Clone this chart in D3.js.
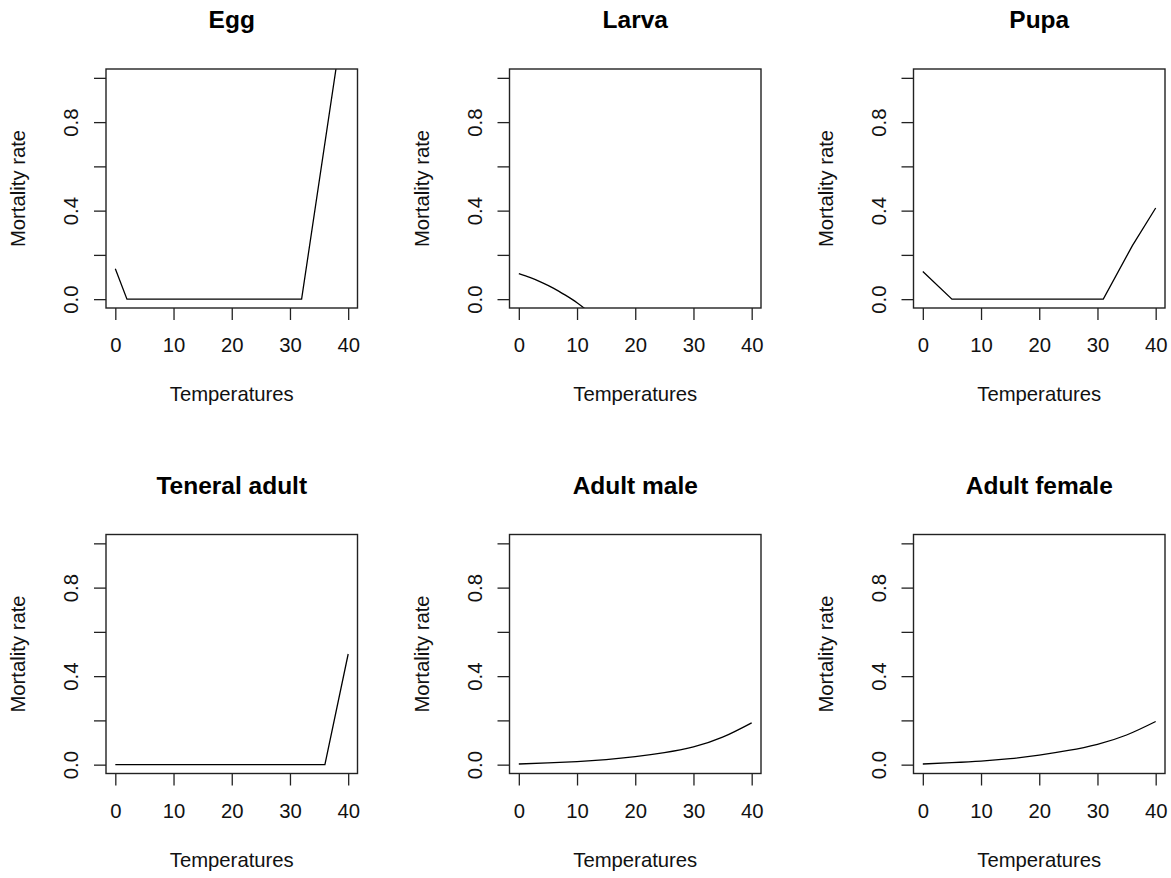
<!DOCTYPE html>
<html>
<head>
<meta charset="utf-8">
<script src="https://cdn.jsdelivr.net/npm/d3@7"></script>
<style>
  body { margin: 0; background: white; }
  svg { display: block; }
  text { font-family: "Liberation Sans", Arial, sans-serif; }
</style>
</head>
<body>
<script>
const W = 1171, H = 878;

// stage names, in panel order
const stages = ["Egg", "Larva", "Pupa", "Teneral adult", "Adult male", "Adult female"];

// temperatures (x) and mortality rates (y)
const eggT = [0, 2, 32, 38];
const eggM = [0.137, 0, 0, 1.058];

const larvaT = [0, 2, 4, 6, 8, 10, 12];
const larvaM = [0.115, 0.097, 0.075, 0.049, 0.018, -0.016, -0.057];

const pupaT = [0, 5, 31, 36, 40];
const pupaM = [0.125, 0, 0, 0.242, 0.412];

const teneralT = [0, 36, 40];
const teneralM = [0, 0, 0.5];

const adultT = [0, 5, 10, 15, 20, 25, 30, 35, 40];
const maleM = [0.003, 0.008, 0.014, 0.023, 0.036, 0.054, 0.08, 0.124, 0.189];
const femaleM = [0.003, 0.009, 0.016, 0.027, 0.043, 0.064, 0.092, 0.134, 0.195];

const xTicks = [0, 10, 20, 30, 40];
const yTicks = [0, 0.2, 0.4, 0.6, 0.8, 1.0];
const yLabelled = [0, 0.4, 0.8];

const series = [
  { t: eggT, m: eggM, smooth: false },
  { t: larvaT, m: larvaM, smooth: true },
  { t: pupaT, m: pupaM, smooth: false },
  { t: teneralT, m: teneralM, smooth: false },
  { t: adultT, m: maleM, smooth: true },
  { t: adultT, m: femaleM, smooth: true }
];

const colLeft = [106, 509.5, 913.5];
const rowTop = [69, 534.5];
const bw = 251.5, bh = 239;
const fs = "20.3px";

const svg = d3.select("body").append("svg")
  .attr("width", W)
  .attr("height", H)
  .style("background-color", "white");

const x = d3.scaleLinear().domain([-1.6, 41.6]).range([0, bw]);
const y = d3.scaleLinear().domain([-0.04, 1.04]).range([bh, 0]);

stages.forEach(function (name, i) {
  const left = colLeft[i % 3];
  const top = rowTop[Math.floor(i / 3)];
  const g = svg.append("g").attr("transform", `translate(${left},${top})`);

  // clip data to plot region
  g.append("clipPath").attr("id", "clip" + i)
    .append("rect").attr("width", bw).attr("height", bh);

  const s = series[i];
  const pts = s.t.map((t, k) => [t, s.m[k]]);
  const line = d3.line()
    .x(d => x(d[0]))
    .y(d => y(d[1]))
    .curve(s.smooth ? d3.curveNatural : d3.curveLinear);

  g.append("path")
    .datum(pts)
    .attr("clip-path", `url(#clip${i})`)
    .attr("d", line)
    .attr("fill", "none")
    .attr("stroke", "black")
    .attr("stroke-width", 1.3);

  // x axis
  const xa = g.append("g")
    .attr("transform", `translate(0,${bh})`)
    .call(d3.axisBottom(x).tickValues(xTicks).tickSize(12).tickSizeOuter(0));
  xa.select(".domain").remove();
  xa.selectAll("line").attr("stroke", "#222").attr("stroke-width", 1.3);
  xa.selectAll("text")
    .attr("y", 44).attr("dy", null)
    .style("font-size", fs)
    .attr("fill", "#111");

  // y axis
  const ya = g.append("g")
    .call(d3.axisLeft(y).tickValues(yTicks).tickSize(12).tickSizeOuter(0)
      .tickFormat(d => yLabelled.some(v => Math.abs(v - d) < 1e-9) ? d3.format(".1f")(d) : ""));
  ya.select(".domain").remove();
  ya.selectAll("line").attr("stroke", "#222").attr("stroke-width", 1.3);
  ya.selectAll("text")
    .attr("x", null).attr("dy", null)
    .attr("transform", "translate(-28,0) rotate(-90)")
    .attr("text-anchor", "middle")
    .style("font-size", fs)
    .attr("fill", "#111");

  // box
  g.append("rect")
    .attr("width", bw).attr("height", bh)
    .attr("fill", "none")
    .attr("stroke", "#222")
    .attr("stroke-width", 1.4);

  // titles and labels
  g.append("text")
    .attr("x", bw / 2).attr("y", -41)
    .attr("text-anchor", "middle")
    .style("font-size", "24.5px").style("font-weight", "bold")
    .text(name);

  g.append("text")
    .attr("x", bw / 2).attr("y", bh + 93)
    .attr("text-anchor", "middle")
    .style("font-size", fs)
    .attr("fill", "#111")
    .text("Temperatures");

  g.append("text")
    .attr("transform", `translate(-81,${bh / 2}) rotate(-90)`)
    .attr("text-anchor", "middle")
    .style("font-size", fs)
    .attr("fill", "#111")
    .text("Mortality rate");
});
</script>
</body>
</html>
